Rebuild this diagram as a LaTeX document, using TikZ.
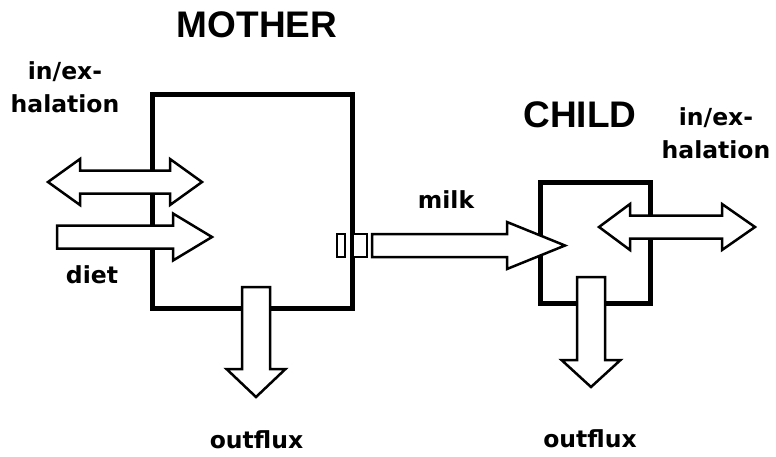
\documentclass[tikz,border=0pt]{standalone}
\usepackage{fontspec}
\setmainfont{Liberation Sans}
\newfontfamily\labelfont{DejaVu Sans}
\usetikzlibrary{positioning}

\tikzset{
  compart/.style={draw=black, line width=5pt, minimum width=#1, inner sep=0pt},
  flow/.style={draw=black, fill=white, line width=2.5pt, line join=miter},
  title/.style={font=\fontsize{37}{40}\selectfont\bfseries, anchor=base},
  flowlabel/.style={font=\labelfont\fontsize{23.5}{33}\selectfont\bfseries, align=center, anchor=base, inner sep=0pt}
}

% block arrow pointing right: tail x, head base x, tip x, centre y
\newcommand{\rightflow}[4]{%
  \draw[flow] (#1,#4-11.5) -- (#2,#4-11.5) -- (#2,#4-23.5) -- (#3,#4) -- (#2,#4+23.5) -- (#2,#4+11.5) -- (#1,#4+11.5) -- cycle;}
% double block arrow: left tip, left base, right base, right tip, centre y
\newcommand{\bothflow}[5]{%
  \draw[flow] (#1,#5) -- (#2,#5-23) -- (#2,#5-11.5) -- (#3,#5-11.5) -- (#3,#5-23) -- (#4,#5) -- (#3,#5+23) -- (#3,#5+11.5) -- (#2,#5+11.5) -- (#2,#5+23) -- cycle;}
% block arrow pointing down: centre x, top, head base y, tip y
\newcommand{\downflow}[4]{%
  \draw[flow] (#1-14,#2) -- (#1+14,#2) -- (#1+14,#3) -- (#1+29.5,#3) -- (#1,#4) -- (#1-29.5,#3) -- (#1-14,#3) -- cycle;}

\begin{document}
\begin{tikzpicture}[x=1pt, y=-1pt]
  \useasboundingbox (0,0) rectangle (776,456);

  % compartments
  \node[compart=200pt, minimum height=214pt] (mother) at (252,201) {};
  \node[compart=110pt, minimum height=121pt] (child) at (595,242.5) {};
  \node[title] (mothertitle) at (257,37) {MOTHER};
  \node[title] (childtitle) at (580,127) {CHILD};

  % mother fluxes
  \bothflow{48}{80}{170}{202}{182}
  \rightflow{57}{173}{212}{237}
  \downflow{256}{287}{369}{397}
  \node[flowlabel] (motherbreath) at (65,112) {in/ex-\\halation};
  \node[flowlabel] (diet) at (92,283) {diet};
  \node[flowlabel] (motherout) at (256.5,448) {outflux};

  % milk transfer
  \draw[flow] (337,234) rectangle (345,257);
  \draw[flow] (353,234) rectangle (367,257);
  \rightflow{372}{507}{565}{245.5}
  \node[flowlabel] (milk) at (446,208) {milk};

  % child fluxes
  \bothflow{599}{630}{722}{755}{227}
  \downflow{591}{277}{360}{387}
  \node[flowlabel] (childbreath) at (716,158) {in/ex-\\halation};
  \node[flowlabel] (childout) at (590,447) {outflux};
\end{tikzpicture}
\end{document}
